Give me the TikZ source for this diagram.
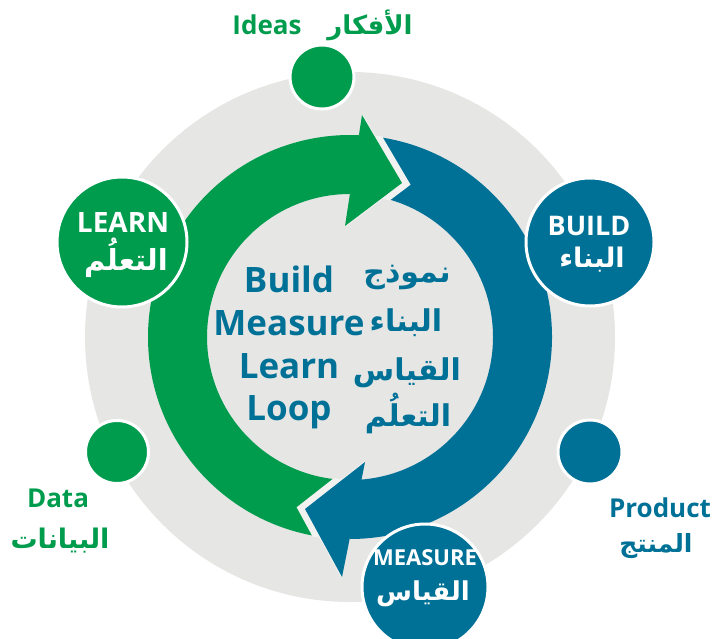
\documentclass[tikz,border=0pt]{standalone}
\usepackage{fontspec}
\setmainfont{Open Sans}
\newfontfamily\ar[Script=Arabic]{DejaVu Sans}
\TeXXeTstate=1
\usetikzlibrary{calc}
\definecolor{lgreen}{RGB}{0,156,78}
\definecolor{lblue}{RGB}{0,113,150}
\definecolor{bggray}{RGB}{230,230,229}
\definecolor{gapgray}{RGB}{242,242,241}
\begin{document}
\begin{tikzpicture}[x=1pt,y=1pt,
  dot/.style={circle,draw=white,line width=3pt,inner sep=0pt},
  lat/.style={font=\fontsize{#1}{#1}\selectfont\bfseries,anchor=base,inner sep=0pt},
  arb/.style={font=\fontsize{#1}{#1}\selectfont\ar\bfseries,anchor=base,inner sep=0pt}]
\useasboundingbox (0,0) rectangle (717,-639);
\coordinate (C) at (350,-337);
\fill[bggray] (C) circle[radius=265];
% blue body
\fill[lblue] ($(C)+(85:202)$) arc[start angle=85,end angle=-90,radius=202]
  -- ($(C)+(-90:143)$) arc[start angle=-90,end angle=85,radius=143] -- cycle;
% green body
\fill[lgreen] ($(C)+(268:202)$) arc[start angle=268,end angle=86,radius=202]
  -- ($(C)+(86:143)$) arc[start angle=86,end angle=268,radius=143] -- cycle;
% green head
\coordinate (go) at (362,-115);
\coordinate (gt) at (402,-183);
\coordinate (gi) at (345,-226);
% blue head
\coordinate (bi) at (365,-462);
\coordinate (bt) at (305,-509);
\coordinate (bo) at (342,-577);
\begin{scope}[even odd rule]
  \clip (C) circle[radius=203] (C) circle[radius=142];
  \draw[gapgray,line width=13pt,line join=miter] (bi) -- (bt) -- (bo);
  \draw[gapgray,line width=13pt,line join=miter] (go) -- (gt) -- (gi);
\end{scope}
\draw[gapgray,line width=2pt,line join=miter] (bi) -- (bt) -- (bo);
\draw[gapgray,line width=2pt,line join=miter] (go) -- (gt) -- (gi);
\fill[lblue] (bi) -- (bt) -- (bo) -- cycle;
\fill[lgreen] (go) -- (gt) -- (gi) -- cycle;
% circles
\node[dot,fill=lgreen,minimum size=64pt] (ideas) at (322,-77) {};
\node[dot,fill=lgreen,minimum size=63pt] (data) at (117,-452) {};
\node[dot,fill=lblue,minimum size=64pt] (product) at (590,-452) {};
\node[dot,fill=lgreen,minimum size=130pt] (learn) at (122,-242) {};
\node[dot,fill=lblue,minimum size=128pt] (build) at (590,-242) {};
\node[dot,fill=lblue,minimum size=126pt] (measure) at (425,-587) {};
% circle labels
\node[lat=28,text=white] (learnE) at (123,-232) {LEARN};
\node[arb=29,text=white] (learnA) at (126,-270) {\beginR التعلُم\endR};
\node[lat=27,text=white] (buildE) at (589,-235) {BUILD};
\node[arb=27,text=white] (buildA) at (592,-267) {\beginR البناء\endR};
\node[lat=22,text=white] (measE) at (425,-565) {MEASURE};
\node[arb=26,text=white] (measA) at (423,-600) {\beginR القياس\endR};
% outer labels
\node[lat=26,text=lgreen] (ideasE) at (267,-35) {Ideas};
\node[arb=26,text=lgreen] (ideasA) at (370,-35) {\beginR الأفكار\endR};
\node[lat=26,text=lgreen] (dataE) at (58,-507) {Data};
\node[arb=27,text=lgreen] (dataA) at (60,-548) {\beginR البيانات\endR};
\node[lat=26,text=lblue] (prodE) at (660,-517) {Product};
\node[arb=25,text=lblue] (prodA) at (656,-552) {\beginR المنتج\endR};
% centre text
\node[lat=35,text=lblue] (c1) at (289,-292) {Build};
\node[lat=35,text=lblue] (c2) at (289,-335) {Measure};
\node[lat=35,text=lblue] (c3) at (289,-378) {Learn};
\node[lat=35,text=lblue] (c4) at (289,-420) {Loop};
\node[arb=30,text=lblue] (a1) at (407,-282) {\beginR نموذج\endR};
\node[arb=30,text=lblue] (a2) at (406,-331) {\beginR البناء\endR};
\node[arb=30,text=lblue] (a3) at (407,-380) {\beginR القياس\endR};
\node[arb=30,text=lblue] (a4) at (408,-426) {\beginR التعلُم\endR};
\end{tikzpicture}
\end{document}
